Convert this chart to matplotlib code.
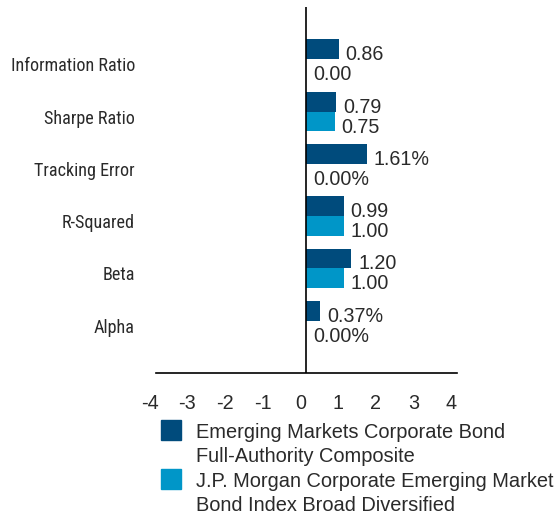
import matplotlib
matplotlib.use("Agg")
import matplotlib.pyplot as plt
from matplotlib.transforms import ScaledTranslation
from matplotlib.patches import Rectangle
import numpy as np

plt.rcParams['axes.unicode_minus'] = False
plt.rcParams['font.family'] = ['Liberation Sans', 'DejaVu Sans']

categories = ["Alpha", "Beta", "R-Squared", "Tracking Error", "Sharpe Ratio", "Information Ratio"]
composite = [0.37, 1.20, 0.99, 1.61, 0.79, 0.86]
benchmark = [0.00, 1.00, 1.00, 0.00, 0.75, 0.00]
is_percent = [True, False, False, True, False, False]
xticks = [-4, -3, -2, -1, 0, 1, 2, 3, 4]
series_names = ["Emerging Markets Corporate Bond\nFull-Authority Composite",
                "J.P. Morgan Corporate Emerging Market\nBond Index Broad Diversified"]
colors = ["#004b7c", "#0096c8"]
text_color = "#2a2a2a"

W, H = 554, 516
fig = plt.figure(figsize=(W / 100, H / 100), dpi=100)
ax = fig.add_axes([155.5 / W, 1 - 373 / H, (457 - 155.5) / W, (373 - 7) / H])
dpi_scale = fig.dpi_scale_trans

y = np.arange(len(categories))
bh = 0.38
ax.barh(y + bh / 2, composite, height=bh, color=colors[0])
ax.barh(y - bh / 2, benchmark, height=bh, color=colors[1])


def fmt(v, pct):
    return f"{v:.2f}%" if pct else f"{v:.2f}"


for i in range(len(categories)):
    for vals, off in [(composite, bh / 2), (benchmark, -bh / 2)]:
        ax.annotate(fmt(vals[i], is_percent[i]), xy=(vals[i], y[i] + off),
                    xytext=(7 * 0.72, -11 * 0.72), textcoords="offset points",
                    ha="left", va="baseline", fontsize=14.2, color=text_color)

ax.set_xlim(-4, 4)
ax.set_ylim(-1, len(categories))
ax.axvline(0, color="black", lw=1.2)
for s in ["top", "right", "left"]:
    ax.spines[s].set_visible(False)
ax.spines["bottom"].set_color("black")
ax.spines["bottom"].set_linewidth(1.2)

ax.set_xticks(xticks)
ax.set_xticklabels([str(t) for t in xticks])
ax.set_yticks(y)
ax.set_yticklabels(categories)
ax.tick_params(axis="x", length=0, pad=15, labelsize=14.2, labelcolor=text_color)
ax.tick_params(axis="y", length=0, pad=20.5 * 0.72, labelcolor=text_color)

# fit the narrow category labels: widest label spans about 124 px in the reference
cat_family = ['Roboto Condensed', 'Open Sans Condensed', 'Liberation Sans Narrow', 'Roboto', 'DejaVu Sans']
renderer = fig.canvas.get_renderer()
probe = fig.text(0, 0, categories[-1], fontsize=14, family=cat_family)
wpx = probe.get_window_extent(renderer).width
probe.remove()
cat_size = 14 * 125 / wpx

for lab in ax.get_yticklabels():
    lab.set_fontfamily(cat_family)
    lab.set_fontsize(cat_size)
    lab.set_va("baseline")
    lab.set_transform(lab.get_transform() + ScaledTranslation(0, -12 / 100, dpi_scale))
for lab in ax.get_xticklabels():
    lab.set_transform(lab.get_transform() + ScaledTranslation(-6 / 100, 0, dpi_scale))

# legend drawn manually in figure pixel coordinates
sq_tops = [420, 469]
for k in range(2):
    fig.patches.append(Rectangle((161 / W, 1 - (sq_tops[k] + 20) / H), 20 / W, 20 / H,
                                 transform=fig.transFigure, color=colors[k]))
    lines = series_names[k].split("\n")
    base = sq_tops[k] + 18.3
    for j, line in enumerate(lines):
        fig.text(196 / W, 1 - (base + j * 23.4) / H, line, ha="left", va="baseline",
                 fontsize=14.4, color=text_color)

fig.savefig("out.png", dpi=100)
